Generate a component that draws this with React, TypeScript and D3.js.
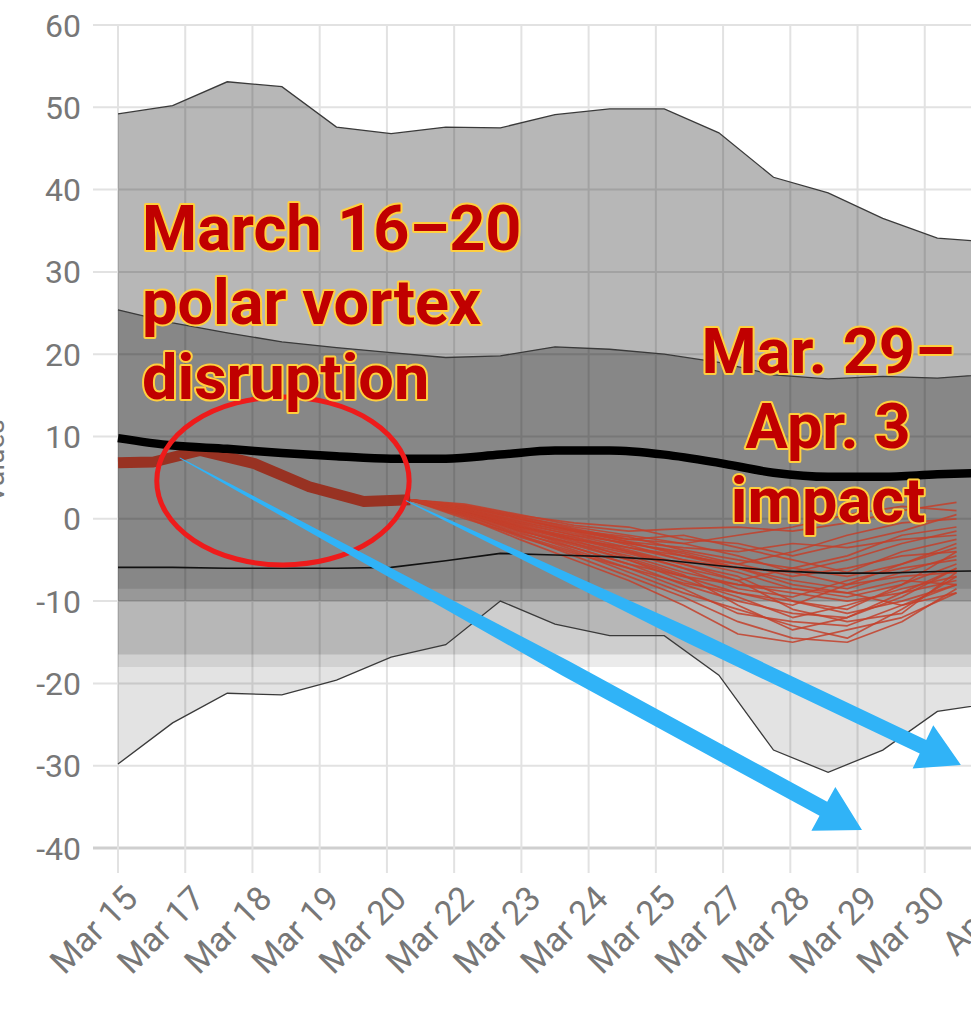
import React, { useEffect, useRef } from 'react';
import * as d3 from 'd3';

// ---- data (day index: 0 = Mar 15) ----
const DAYS = [0, 1, 2, 3, 4, 5, 6, 7, 8, 9, 10, 11, 12, 13, 14, 15, 16];
const MAX = [49.2, 50.2, 53.1, 52.5, 47.6, 46.8, 47.6, 47.5, 49.1, 49.8, 49.8, 46.9, 41.5, 39.6, 36.5, 34.1, 33.6];
const P75 = [25.4, 23.8, 22.6, 21.5, 20.8, 20.2, 19.6, 19.8, 20.9, 20.6, 20.0, 19.0, 17.5, 17.0, 17.3, 17.1, 17.6];
const MEAN = [9.8, 8.9, 8.5, 8.0, 7.6, 7.3, 7.3, 7.8, 8.3, 8.3, 7.8, 6.8, 5.6, 5.1, 5.1, 5.4, 5.6];
const P25 = [-5.9, -5.9, -6.0, -6.0, -6.0, -5.9, -5.1, -4.2, -4.4, -4.6, -5.0, -5.7, -6.3, -6.6, -6.6, -6.4, -6.3];
const MIN = [-29.8, -24.8, -21.2, -21.4, -19.6, -16.8, -15.3, -10.0, -12.8, -14.2, -14.2, -19.0, -28.1, -30.8, -28.1, -23.4, -22.4];

const OUTER_LEVEL_A = -18;
const OUTER_LEVEL_B = -16.5;
const INNER_LEVEL_A = -10;
const INNER_LEVEL_B = -8.5;

const ANALYSIS_DAYS = [0, 0.65, 1.5, 2.5, 3.5, 4.5, 5.35];
const ANALYSIS = [6.8, 6.9, 8.3, 6.7, 3.9, 2.1, 2.3];

const MEMBER_DAYS = [5.35, 6.35, 7.35, 8.35, 9.35, 10.35, 11.35, 12.35, 13.35, 14.35, 15.35];
const MEMBERS = [
  [2.3, 1.8, 0.5, -0.8, -1.5, -1.2, -1.0, -1.5, -0.5, 1.0, 2.0],
  [2.3, 1.5, 0.0, -1.5, -2.5, -3.0, -2.0, -1.0, 0.5, 1.5, 1.0],
  [2.3, 1.2, -0.5, -2.0, -3.5, -4.5, -5.5, -4.0, -2.0, -0.5, 0.0],
  [2.3, 1.0, -1.0, -2.5, -4.0, -6.0, -7.5, -6.0, -4.5, -2.0, -1.0],
  [2.3, 0.8, -1.5, -3.0, -5.0, -7.0, -9.0, -10.5, -8.0, -5.5, -3.0],
  [2.3, 0.5, -2.0, -4.0, -6.5, -9.0, -11.0, -13.0, -14.5, -11.0, -7.0],
  [2.3, 0.2, -2.5, -5.0, -7.5, -10.5, -14.0, -15.0, -13.5, -12.0, -9.0],
  [2.3, 0.0, -2.0, -4.5, -7.0, -9.5, -12.5, -14.5, -15.0, -12.5, -8.5],
  [2.3, 1.5, 0.2, -1.0, -2.0, -3.0, -4.5, -6.5, -8.0, -7.0, -6.5],
  [2.3, 1.0, -0.8, -2.5, -3.5, -5.0, -6.5, -8.5, -9.5, -8.0, -5.5],
  [2.3, 1.3, -0.3, -1.8, -3.0, -4.0, -5.5, -7.0, -6.0, -4.5, -4.0],
  [2.3, 0.7, -1.2, -3.0, -4.5, -6.5, -8.0, -9.0, -10.0, -9.0, -7.5],
  [2.3, 0.9, -1.0, -2.2, -3.8, -5.5, -7.0, -10.0, -11.5, -10.0, -8.0],
  [2.3, 1.6, 0.3, -1.2, -2.5, -2.0, -3.5, -5.0, -6.5, -4.0, -2.5],
  [2.3, 0.4, -1.8, -3.5, -5.5, -8.0, -10.0, -11.5, -12.0, -9.5, -6.0],
  [2.3, 1.1, -0.6, -2.0, -3.0, -4.2, -6.0, -7.5, -8.5, -6.5, -4.5],
  [2.3, 1.4, 0.0, -1.5, -2.8, -3.5, -4.0, -3.0, -3.5, -2.5, -2.0],
  [2.3, 0.6, -1.4, -3.2, -5.0, -7.5, -9.5, -12.0, -10.5, -8.5, -7.0],
  [2.3, 0.9, -0.9, -2.8, -4.2, -6.0, -8.5, -9.5, -7.5, -6.0, -5.0],
  [2.3, 1.2, -0.4, -1.6, -3.2, -5.0, -6.0, -6.5, -5.0, -3.0, -1.5],
  [2.3, 0.3, -2.2, -4.2, -6.0, -8.5, -11.5, -12.5, -13.0, -10.5, -8.0],
  [2.3, 1.7, 0.4, -0.5, -1.0, -2.5, -3.0, -4.5, -3.0, -1.5, 0.5],
  [2.3, 0.8, -1.3, -3.5, -5.5, -7.0, -8.0, -8.5, -9.0, -10.5, -9.0],
  [2.3, 1.0, -0.7, -2.3, -4.0, -5.5, -7.5, -11.0, -12.5, -11.5, -6.5],
  [2.3, 0.5, -1.6, -3.8, -6.0, -7.8, -9.0, -10.0, -11.0, -8.0, -4.0],
  [2.3, 1.3, -0.2, -1.4, -2.2, -3.8, -5.0, -6.0, -7.0, -5.5, -3.5],
  [2.3, 0.7, -1.1, -2.6, -4.8, -6.8, -10.5, -13.5, -12.0, -9.0, -6.0],
  [2.3, 1.5, 0.1, -1.3, -2.8, -4.5, -6.0, -8.0, -9.0, -7.5, -8.0],
];

const Y_TICKS = [60, 50, 40, 30, 20, 10, 0, -10, -20, -30, -40];
const X_LABELS = ['Mar 15', 'Mar 17', 'Mar 18', 'Mar 19', 'Mar 20', 'Mar 22', 'Mar 23', 'Mar 24', 'Mar 25', 'Mar 27', 'Mar 28', 'Mar 29', 'Mar 30', 'Apr 1'];
const Y_TITLE = 'Values';

// annotations in data coordinates (day, value)
const ELLIPSE = { day: 3.02, value: 4.6, dayRadius: 2.31, valueRadius: 10.2 };
const ARROWS = [
  { fromDay: 1.13, fromValue: 7.4, toDay: 13.62, toValue: -37.8, shaft: 16, headLen: 44, headWidth: 50, taper: 0.6 },
  { fromDay: 5.27, fromValue: 2.2, toDay: 15.43, toValue: -29.9, shaft: 15, headLen: 42, headWidth: 48, taper: 0.55 },
];
const NOTE_LEFT = { day: 0.44, value: 32.7, lines: ['March 16\u201320', 'polar vortex', 'disruption'] };
const NOTE_RIGHT = { day: 13.0, value: 17.7, lines: ['Mar. 29\u2013', 'Apr. 3', 'impact'] };

export default function App() {
  const ref = useRef<SVGSVGElement>(null);

  useEffect(() => {
    const svg = d3.select(ref.current);
    svg.selectAll('*').remove();
    const W = 971;
    const x = d3.scaleLinear().domain([0, 16]).range([118, 992]);
    const y = d3.scaleLinear().domain([-40, 60]).range([848, 25]);
    const font = 'Roboto, Arial, sans-serif';

    svg.append('rect').attr('width', W).attr('height', 1024).attr('fill', '#fff');

    // grid
    const grid = svg.append('g');
    grid.selectAll('line.h').data(Y_TICKS).join('line')
      .attr('x1', 93).attr('x2', W)
      .attr('y1', (d) => y(d)).attr('y2', (d) => y(d))
      .attr('stroke', (d) => (d === -40 ? '#cfcfcf' : '#e2e2e2'))
      .attr('stroke-width', (d) => (d === -40 ? 3 : 2));
    const tickDays = X_LABELS.map((_, i) => (i * 16) / 13);
    grid.selectAll('line.v').data(tickDays).join('line')
      .attr('x1', (d) => x(d)).attr('x2', (d) => x(d))
      .attr('y1', y(60)).attr('y2', 873)
      .attr('stroke', '#e2e2e2').attr('stroke-width', 2);

    const idx = DAYS.map((_, i) => i);
    const areaTo = (top: number[], bottom: (i: number) => number) =>
      d3.area<number>().x((i) => x(DAYS[i])).y0((i) => y(bottom(i))).y1((i) => y(top[i]))(idx);

    const fills = svg.append('g');
    fills.append('path').attr('d', areaTo(MAX, (i) => MIN[i])).attr('fill', '#000').attr('fill-opacity', 0.11);
    fills.append('path').attr('d', areaTo(MAX, () => OUTER_LEVEL_A)).attr('fill', '#000').attr('fill-opacity', 0.08);
    fills.append('path').attr('d', areaTo(MAX, () => OUTER_LEVEL_B)).attr('fill', '#000').attr('fill-opacity', 0.12);
    fills.append('path').attr('d', areaTo(P75, () => INNER_LEVEL_A)).attr('fill', '#000').attr('fill-opacity', 0.17);
    fills.append('path').attr('d', areaTo(P75, () => INNER_LEVEL_B)).attr('fill', '#000').attr('fill-opacity', 0.11);

    const lineOf = (vals: number[], days: number[], curve: any = d3.curveLinear) =>
      d3.line<number>().x((v, i) => x(days[i])).y((v) => y(v)).curve(curve)(vals);

    const lines = svg.append('g').attr('fill', 'none');
    [MAX, P75, MIN].forEach((s) => {
      lines.append('path').attr('d', lineOf(s, DAYS)).attr('stroke', '#3a3a3a').attr('stroke-width', 1.3);
    });

    // ensemble members
    const ens = svg.append('g').attr('fill', 'none');
    MEMBERS.forEach((m) => {
      ens.append('path').attr('d', lineOf(m, MEMBER_DAYS))
        .attr('stroke', '#c4402a').attr('stroke-opacity', 0.85).attr('stroke-width', 1.7)
        .attr('stroke-linejoin', 'round');
    });
    ens.append('path').attr('d', lineOf(ANALYSIS, ANALYSIS_DAYS))
      .attr('stroke', '#983222').attr('stroke-width', 11).attr('stroke-linejoin', 'round');

    // p25 and mean on top
    lines.raise();
    svg.append('path').attr('d', lineOf(P25, DAYS)).attr('fill', 'none').attr('stroke', '#111').attr('stroke-width', 1.6);
    svg.append('path').attr('d', lineOf(MEAN, DAYS, d3.curveMonotoneX)).attr('fill', 'none').attr('stroke', '#000').attr('stroke-width', 8.5);

    // axis labels
    svg.append('g').selectAll('text').data(Y_TICKS).join('text')
      .attr('x', 81).attr('y', (d) => y(d)).attr('dy', '0.36em')
      .attr('text-anchor', 'end').attr('font-family', font).attr('font-size', 32).attr('fill', '#777')
      .text((d) => String(d));
    svg.append('g').selectAll('text').data(X_LABELS).join('text')
      .attr('transform', (_, i) => `translate(${x(tickDays[i]) + 13},${892}) rotate(-45)`)
      .attr('text-anchor', 'end').attr('dy', '0.35em')
      .attr('font-family', font).attr('font-size', 34).attr('fill', '#777')
      .text((d) => d);
    svg.append('text').attr('transform', `translate(4,${y(7)}) rotate(-90)`)
      .attr('text-anchor', 'middle').attr('font-family', font).attr('font-size', 28).attr('fill', '#777')
      .text(Y_TITLE);

    // ellipse
    svg.append('ellipse')
      .attr('cx', x(ELLIPSE.day)).attr('cy', y(ELLIPSE.value))
      .attr('rx', x(ELLIPSE.day + ELLIPSE.dayRadius) - x(ELLIPSE.day))
      .attr('ry', y(ELLIPSE.value - ELLIPSE.valueRadius) - y(ELLIPSE.value))
      .attr('fill', 'none').attr('stroke', '#ee1b1b').attr('stroke-width', 5);

    // arrows
    ARROWS.forEach((a) => {
      const T = [x(a.fromDay), y(a.fromValue)];
      const P = [x(a.toDay), y(a.toValue)];
      const dx = P[0] - T[0], dy = P[1] - T[1];
      const len = Math.hypot(dx, dy);
      const u = [dx / len, dy / len];
      const n = [-u[1], u[0]];
      const B = [P[0] - u[0] * a.headLen, P[1] - u[1] * a.headLen];
      const M = [T[0] + (B[0] - T[0]) * a.taper, T[1] + (B[1] - T[1]) * a.taper];
      const off = (p: number[], w: number) => [p[0] + n[0] * w, p[1] + n[1] * w];
      const pts = [
        off(T, 0.4), off(M, a.shaft / 2), off(B, a.shaft / 2), off(B, a.headWidth / 2), P,
        off(B, -a.headWidth / 2), off(B, -a.shaft / 2), off(M, -a.shaft / 2), off(T, -0.4),
      ];
      svg.append('path').attr('d', 'M' + pts.map((p) => p.join(',')).join('L') + 'Z').attr('fill', '#30b3f7');
    });

    // annotation text
    const note = (cfg: { day: number; value: number; lines: string[] }, anchor: string) => {
      const t = svg.append('text')
        .attr('font-family', font).attr('font-weight', 700).attr('font-size', 63)
        .attr('fill', '#c00000').attr('stroke', '#ffcf3f').attr('stroke-width', 4)
        .attr('stroke-linejoin', 'round').attr('paint-order', 'stroke')
        .attr('text-anchor', anchor);
      cfg.lines.forEach((l, i) => {
        t.append('tspan').attr('x', x(cfg.day)).attr('y', y(cfg.value) + i * 74.5).text(l);
      });
    };
    note(NOTE_LEFT, 'start');
    note(NOTE_RIGHT, 'middle');
  }, []);

  return <svg ref={ref} width={971} height={1024} style={{ position: 'absolute', left: 0, top: 0 }} />;
}
